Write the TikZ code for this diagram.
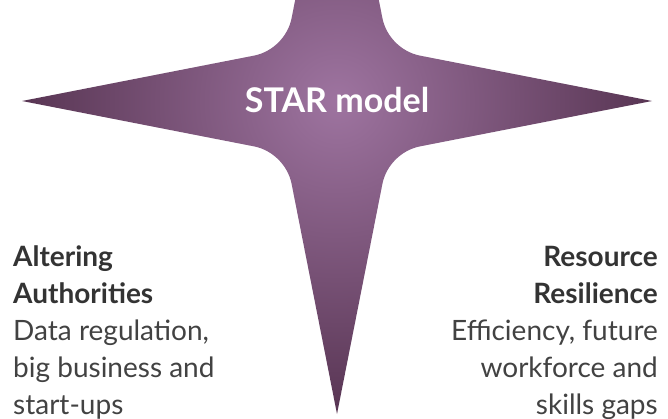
\documentclass[tikz,border=0pt]{standalone}
\usepackage{fontspec}
\setmainfont{Lato}
\usepackage{xcolor}
\definecolor{starEdge}{RGB}{88,53,83}
\definecolor{starGlow}{RGB}{158,116,160}
\definecolor{textDark}{RGB}{51,51,51}
\definecolor{textGrey}{RGB}{66,66,66}
\newcommand{\pillarhead}[1]{\textcolor{textDark}{\textbf{#1}}}
\tikzset{
    % Star body
    starBody/.style={shading=radial, inner color=starGlow, outer color=starEdge},
    % Labels
    title/.style={text=white, inner sep=0pt, font=\fontsize{34}{40}\selectfont\bfseries},
    pillar/.style={text=textGrey, inner sep=0pt, font=\fontsize{28}{37}\selectfont}
}

\begin{document}
\begin{tikzpicture}[x=1pt, y=-1pt]

\useasboundingbox (0,0) rectangle (668,418);
\clip (0,0) rectangle (668,418);

% four-pointed star, concave fillets between the arms
\begin{scope}[shift={(337,101)}]
\path[starBody] (-315,0) -- (-82.9,-45.4)
    .. controls (-64.4,-49) and (-49,-64.4) .. (-45.4,-82.9) -- (0,-313) -- (45.4,-82.9)
    .. controls (49,-64.4) and (64.4,-49) .. (82.9,-45.4) -- (315,0) -- (82.9,45.4)
    .. controls (64.4,49) and (49,64.4) .. (45.4,82.9) -- (0,313) -- (-45.4,82.9)
    .. controls (-49,64.4) and (-64.4,49) .. (-82.9,45.4) -- cycle;
\end{scope}

\node[title] (model) at (337,100) {STAR model};

\node[pillar, align=left, anchor=north west] (altering) at (13,245)
    {\pillarhead{Altering}\\\pillarhead{Authorities}\\Data regulation,\\big business and\\start-ups};
\node[pillar, align=right, anchor=north east] (resource) at (658,246)
    {\pillarhead{Resource}\\\pillarhead{Resilience}\\Efficiency, future\\workforce and\\skills gaps};

\end{tikzpicture}
\end{document}
